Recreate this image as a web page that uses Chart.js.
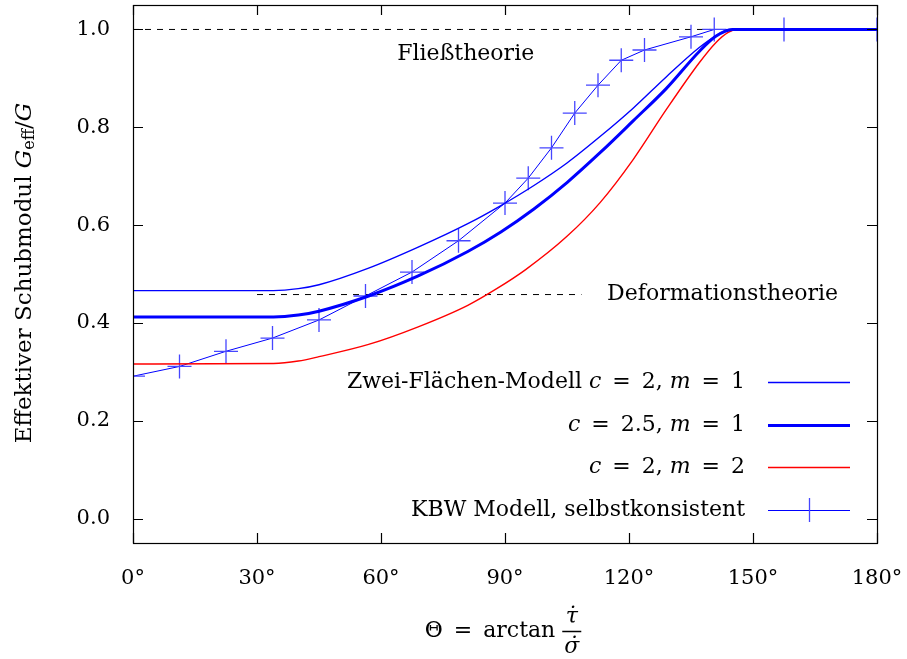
<!DOCTYPE html>
<html>
<head>
<meta charset="utf-8">
<script src="https://cdn.jsdelivr.net/npm/chart.js@4.4.0/dist/chart.umd.min.js"></script>
<style>
  html, body { margin: 0; padding: 0; background: #fff; }
</style>
</head>
<body>
<canvas id="chart" width="907" height="659"></canvas>
<script>
// ---- data ----
const xTicks = [0, 30, 60, 90, 120, 150, 180];
const yTicks = [0.0, 0.2, 0.4, 0.6, 0.8, 1.0];

// Zwei-Flächen-Modell c = 2, m = 1
const zf1X = [0, 34, 40, 45, 57, 69, 81, 89, 97, 105, 113, 121, 129, 137, 141, 144.5, 180];
const zf1Y = [0.466, 0.466, 0.470, 0.478, 0.512, 0.555, 0.603, 0.640, 0.681, 0.727, 0.781, 0.839, 0.903, 0.963, 0.987, 1.0, 1.0];

// c = 2.5, m = 1
const zf2X = [0, 34, 40, 45, 57, 69, 81, 89, 97, 105, 113, 121, 129, 137, 141, 145, 180];
const zf2Y = [0.412, 0.412, 0.416, 0.424, 0.455, 0.496, 0.546, 0.586, 0.633, 0.687, 0.748, 0.813, 0.879, 0.955, 0.986, 1.0, 1.0];

// c = 2, m = 2
const zf3X = [0, 34, 40, 45, 57, 69, 81, 88, 95, 105, 113, 121, 129, 137, 141, 144, 146, 180];
const zf3Y = [0.316, 0.317, 0.322, 0.331, 0.356, 0.392, 0.436, 0.470, 0.509, 0.577, 0.646, 0.734, 0.836, 0.932, 0.973, 0.994, 1.0, 1.0];

// KBW Modell, selbstkonsistent
const kbwX = [0, 11.25, 22.5, 33.75, 45, 56.25, 67.5, 78.75, 90, 95.625, 101.25, 106.875, 112.5, 118.125, 123.75, 135, 140.625, 157.5, 180];
const kbwY = [0.291, 0.311, 0.342, 0.369, 0.406, 0.455, 0.504, 0.568, 0.645, 0.696, 0.758, 0.829, 0.886, 0.937, 0.958, 0.985, 1.0, 1.0, 1.0];

// reference levels
const fliessX = [0, 140];
const fliessY = [1.0, 1.0];
const deformX = [30, 108.5];
const deformY = [0.458, 0.458];

const seriesLabels = [
  "Zwei-Flächen-Modell $c$\u2002=\u20022, $m$\u2002=\u20021",
  "$c$\u2002=\u20022.5, $m$\u2002=\u20021",
  "$c$\u2002=\u20022, $m$\u2002=\u20022",
  "KBW Modell, selbstkonsistent"
];

const notes = [
  { text: "Fließtheorie", x: 80.5, y: 0.95, align: "center" },
  { text: "Deformationstheorie", x: 114.7, y: 0.458, align: "left" }
];

const FONT = "'DejaVu Serif', 'Liberation Serif', serif";
const TXT = 22;

function pts(xs, ys) {
  return xs.map((x, i) => ({ x: x, y: ys[i] }));
}

// split "$c$" markup into normal / italic parts
function parseLabel(s) {
  return s.split("$").map((t, i) => [t, i % 2 ? "i" : "n"]).filter(p => p[0] !== "");
}

function partFont(style, size) {
  if (style === "i") return "italic " + size + "px " + FONT;
  if (style === "s") return Math.round(size * 0.7) + "px " + FONT;
  return size + "px " + FONT;
}

function richWidth(ctx, parts, size) {
  let w = 0;
  parts.forEach(p => {
    ctx.font = partFont(p[1], size);
    w += ctx.measureText(p[0]).width;
  });
  return w;
}

function drawRich(ctx, parts, x, y, align, size) {
  const w = richWidth(ctx, parts, size);
  let cx = align === "right" ? x - w : align === "center" ? x - w / 2 : x;
  ctx.textAlign = "left";
  ctx.textBaseline = "middle";
  parts.forEach(p => {
    ctx.font = partFont(p[1], size);
    ctx.fillText(p[0], cx, p[1] === "s" ? y + 5 : y);
    cx += ctx.measureText(p[0]).width;
  });
}

const decorations = {
  id: "decorations",
  afterDatasetsDraw(chart) {
    const ctx = chart.ctx;
    const a = chart.chartArea;
    const xs = chart.scales.x, ys = chart.scales.y;
    ctx.save();
    ctx.strokeStyle = "#000";
    ctx.lineWidth = 1.2;
    // inner ticks on all four sides
    const tl = 10;
    ctx.beginPath();
    xTicks.forEach(v => {
      const px = Math.round(xs.getPixelForValue(v)) + 0.5;
      ctx.moveTo(px, a.bottom); ctx.lineTo(px, a.bottom - tl);
      ctx.moveTo(px, a.top); ctx.lineTo(px, a.top + tl);
    });
    yTicks.forEach(v => {
      const py = Math.round(ys.getPixelForValue(v)) + 0.5;
      ctx.moveTo(a.left, py); ctx.lineTo(a.left + tl, py);
      ctx.moveTo(a.right, py); ctx.lineTo(a.right - tl, py);
    });
    ctx.stroke();
    ctx.strokeRect(Math.round(a.left) + 0.5, Math.round(a.top) + 0.5,
                   Math.round(a.right - a.left), Math.round(a.bottom - a.top));

    // text notes
    ctx.fillStyle = "#000";
    notes.forEach(n => {
      drawRich(ctx, [[n.text, "n"]], xs.getPixelForValue(n.x), ys.getPixelForValue(n.y), n.align, TXT);
    });

    // legend, inside the plot at the bottom right
    const rows = [382, 425, 467, 510];
    const textRight = 745, s0 = 768, s1 = 850;
    chart.data.datasets.slice(0, 4).forEach((ds, i) => {
      const y = rows[i];
      ctx.fillStyle = "#000";
      drawRich(ctx, parseLabel(seriesLabels[i]), textRight, y, "right", TXT);
      ctx.strokeStyle = ds.borderColor;
      ctx.lineWidth = ds.borderWidth;
      ctx.beginPath();
      ctx.moveTo(s0, y + 0.5); ctx.lineTo(s1, y + 0.5);
      ctx.stroke();
      if (ds.pointRadius > 0) {
        const mid = (s0 + s1) / 2;
        ctx.strokeStyle = ds.pointBorderColor;
        ctx.lineWidth = ds.pointBorderWidth;
        ctx.beginPath();
        ctx.moveTo(mid + 0.5, y - ds.pointRadius); ctx.lineTo(mid + 0.5, y + ds.pointRadius);
        ctx.stroke();
      }
    });
    ctx.restore();
  },
  afterDraw(chart) {
    const ctx = chart.ctx;
    ctx.save();
    ctx.fillStyle = "#000";
    // y axis title
    ctx.translate(25, 273);
    ctx.rotate(-Math.PI / 2);
    drawRich(ctx, [["Effektiver Schubmodul ", "n"], ["G", "i"], ["eff", "s"], ["/", "n"], ["G", "i"]], 0, 0, "center", 23);
    ctx.restore();

    // x axis title: Θ = arctan (τ̇ / σ̇)
    ctx.save();
    ctx.fillStyle = "#000";
    ctx.strokeStyle = "#000";
    const base = "Θ\u2002=\u2002arctan ";
    ctx.font = TXT + "px " + FONT;
    const bw = ctx.measureText(base).width;
    ctx.font = "italic " + TXT + "px " + FONT;
    const fw = Math.max(ctx.measureText("τ").width, ctx.measureText("σ").width) + 4;
    const x0 = 503 - (bw + fw) / 2;
    ctx.font = TXT + "px " + FONT;
    ctx.textAlign = "left";
    ctx.textBaseline = "middle";
    ctx.fillText(base, x0, 631);
    const fc = x0 + bw + fw / 2;
    ctx.lineWidth = 1.5;
    ctx.beginPath();
    ctx.moveTo(fc - fw / 2, 631.5); ctx.lineTo(fc + fw / 2, 631.5);
    ctx.stroke();
    ctx.font = "italic " + TXT + "px " + FONT;
    ctx.textAlign = "center";
    ctx.textBaseline = "alphabetic";
    ctx.fillText("τ\u0307", fc, 623);
    ctx.fillText("σ\u0307", fc, 653);
    ctx.restore();
  }
};

Chart.defaults.font.family = FONT;
Chart.defaults.font.size = 21;
Chart.defaults.color = "#000";

new Chart(document.getElementById("chart"), {
  type: "line",
  data: {
    datasets: [
      {
        label: seriesLabels[0], data: pts(zf1X, zf1Y),
        borderColor: "#0000ff", borderWidth: 1.4, pointRadius: 0,
        cubicInterpolationMode: "monotone"
      },
      {
        label: seriesLabels[1], data: pts(zf2X, zf2Y),
        borderColor: "#0000ff", borderWidth: 3, pointRadius: 0,
        cubicInterpolationMode: "monotone"
      },
      {
        label: seriesLabels[2], data: pts(zf3X, zf3Y),
        borderColor: "#ff0000", borderWidth: 1.4, pointRadius: 0,
        cubicInterpolationMode: "monotone"
      },
      {
        label: seriesLabels[3], data: pts(kbwX, kbwY),
        borderColor: "#0000ff", borderWidth: 1, tension: 0,
        pointStyle: "cross", pointRadius: 12, pointBorderWidth: 1.3,
        pointBorderColor: "rgb(70,70,255)", pointHoverRadius: 12
      },
      {
        label: "Fließtheorie", data: pts(fliessX, fliessY),
        borderColor: "#000", borderWidth: 1, borderDash: [6, 6], pointRadius: 0
      },
      {
        label: "Deformationstheorie", data: pts(deformX, deformY),
        borderColor: "#000", borderWidth: 1, borderDash: [6, 6], pointRadius: 0
      }
    ]
  },
  options: {
    responsive: false,
    animation: false,
    devicePixelRatio: 1,
    layout: { autoPadding: false, padding: { left: 0, right: 30, top: 5, bottom: 0 } },
    plugins: { legend: { display: false }, tooltip: { enabled: false } },
    scales: {
      x: {
        type: "linear", min: 0, max: 180,
        grid: { display: false, drawTicks: false },
        border: { display: false },
        afterBuildTicks: s => { s.ticks = xTicks.map(v => ({ value: v })); },
        ticks: { padding: 23, maxRotation: 0, callback: v => v + "°" },
        afterFit: s => { s.height = 116; s.paddingLeft = 0; s.paddingRight = 0; }
      },
      y: {
        type: "linear", min: -0.05, max: 1.05,
        grid: { display: false, drawTicks: false },
        border: { display: false },
        afterBuildTicks: s => { s.ticks = yTicks.map(v => ({ value: v })); },
        ticks: { padding: 23, callback: v => v.toFixed(1) },
        afterFit: s => { s.width = 133; s.paddingTop = 0; s.paddingBottom = 0; }
      }
    }
  },
  plugins: [decorations]
});
</script>
</body>
</html>
